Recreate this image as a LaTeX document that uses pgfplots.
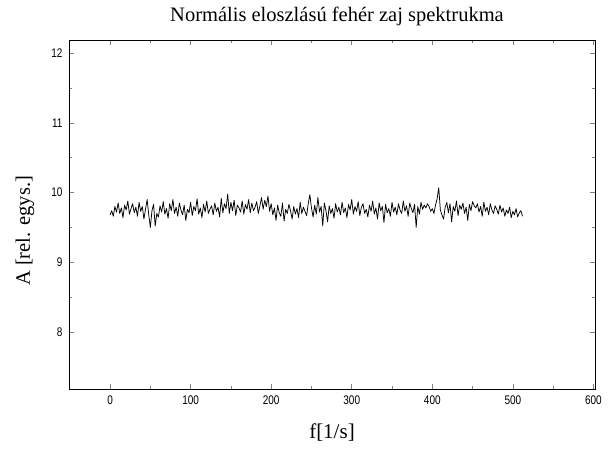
\documentclass[border=0pt]{standalone}
\usepackage{fontspec}
\setmainfont{Liberation Serif}
\newfontfamily\ticksans[FakeStretch=0.8]{Liberation Sans}
\usepackage{pgfplots}
\pgfplotsset{compat=1.18}
\begin{document}
\begin{tikzpicture}[x=1pt,y=1pt]
\path[use as bounding box] (-69,-59) rectangle (540,389);
\begin{axis}[at={(0,0)}, anchor=south west, scale only axis,
 width=526pt, height=349pt,
 xmin=-51, xmax=602, ymin=7.18, ymax=12.19,
 xtick={0,100,...,600}, ytick={8,9,10,11,12},
 minor x tick num=1, minor y tick num=1,
 tick align=inside, major tick length=5pt, minor tick length=3pt,
 tick style={line width=0.6pt},
 tick label style={font=\ticksans\fontsize{12.5}{12.5}\selectfont},
 /pgf/number format/assume math mode=true,
 xticklabel style={yshift=-3pt}, yticklabel style={xshift=-3pt},
 axis line style={line width=0.8pt},
 title={Normális eloszlású fehér zaj spektrukma},
 title style={at={(axis description cs:0.5095,1.0344)}, anchor=base, font=\fontsize{20.5}{24}\selectfont},
 xlabel={f[1/s]},
 xlabel style={at={(axis description cs:0.5,-0.1404)}, anchor=base, font=\fontsize{21}{24}\selectfont},
 ylabel={A [rel. egys.]},
 ylabel style={at={(axis description cs:-0.0837,0.453)}, anchor=center, font=\fontsize{20.5}{24}\selectfont},
]
\addplot[black, line width=0.75pt, mark=none, line join=round] coordinates {
(0,9.68)(2,9.74)(4,9.66)(6,9.80)(8,9.72)(10,9.85)(12,9.70)(14,9.78)(16,9.64)(18,9.82)(20,9.75)(22,9.88)(24,9.69)(26,9.77)(28,9.84)(30,9.71)
(32,9.79)(34,9.66)(36,9.86)(38,9.73)(40,9.80)(42,9.62)(44,9.76)(46,9.90)(48,9.68)(50,9.50)(52,9.74)(54,9.83)(56,9.52)(58,9.70)(60,9.65)(62,9.81)
(64,9.72)(66,9.87)(68,9.69)(70,9.77)(72,9.63)(74,9.84)(76,9.74)(78,9.90)(80,9.70)(82,9.79)(84,9.66)(86,9.85)(88,9.75)(90,9.68)(92,9.82)(94,9.60)
(96,9.76)(98,9.71)(100,9.86)(102,9.67)(104,9.80)(106,9.74)(108,9.91)(110,9.69)(112,9.78)(114,9.64)(116,9.83)(118,9.72)(120,9.88)(122,9.70)(124,9.76)(126,9.81)
(128,9.68)(130,9.85)(132,9.73)(134,9.79)(136,9.65)(138,9.92)(140,9.71)(142,9.84)(144,9.77)(146,9.98)(148,9.70)(150,9.86)(152,9.74)(154,9.89)(156,9.67)(158,9.82)
(160,9.78)(162,9.72)(164,9.88)(166,9.69)(168,9.83)(170,9.76)(172,9.90)(174,9.71)(176,9.85)(178,9.74)(180,9.79)(182,9.87)(184,9.70)(186,9.81)(188,9.93)(190,9.76)
(192,9.89)(194,9.80)(196,9.95)(198,9.73)(200,9.84)(202,9.68)(204,9.78)(206,9.60)(208,9.82)(210,9.71)(212,9.66)(214,9.85)(216,9.59)(218,9.76)(220,9.70)(222,9.83)
(224,9.74)(226,9.62)(228,9.80)(230,9.69)(232,9.77)(234,9.64)(236,9.86)(238,9.70)(240,9.79)(242,9.73)(244,9.67)(246,9.84)(248,9.97)(250,9.78)(252,9.65)(254,9.82)
(256,9.69)(258,9.93)(260,9.72)(262,9.80)(264,9.52)(266,9.85)(268,9.74)(270,9.58)(272,9.81)(274,9.70)(276,9.77)(278,9.63)(280,9.84)(282,9.72)(284,9.79)(286,9.68)
(288,9.86)(290,9.71)(292,9.78)(294,9.64)(296,9.83)(298,9.75)(300,9.90)(302,9.69)(304,9.80)(306,9.73)(308,9.87)(310,9.67)(312,9.79)(314,9.84)(316,9.70)(318,9.76)
(320,9.65)(322,9.82)(324,9.73)(326,9.88)(328,9.69)(330,9.78)(332,9.62)(334,9.85)(336,9.74)(338,9.80)(340,9.57)(342,9.83)(344,9.71)(346,9.77)(348,9.66)(350,9.86)
(352,9.72)(354,9.79)(356,9.68)(358,9.84)(360,9.75)(362,9.70)(364,9.88)(366,9.73)(368,9.81)(370,9.66)(372,9.85)(374,9.77)(376,9.71)(378,9.83)(380,9.50)(382,9.80)
(384,9.69)(386,9.86)(388,9.76)(390,9.82)(392,9.78)(394,9.84)(396,9.80)(398,9.73)(400,9.77)(402,9.70)(404,9.82)(406,9.91)(408,10.07)(410,9.75)(412,9.68)(414,9.62)
(416,9.79)(418,9.86)(420,9.71)(422,9.84)(424,9.58)(426,9.80)(428,9.73)(430,9.88)(432,9.67)(434,9.82)(436,9.76)(438,9.85)(440,9.70)(442,9.79)(444,9.60)(446,9.83)
(448,9.74)(450,9.87)(452,9.81)(454,9.78)(456,9.84)(458,9.72)(460,9.80)(462,9.66)(464,9.86)(466,9.73)(468,9.79)(470,9.68)(472,9.84)(474,9.75)(476,9.70)(478,9.81)
(480,9.76)(482,9.69)(484,9.82)(486,9.72)(488,9.78)(490,9.66)(492,9.75)(494,9.70)(496,9.79)(498,9.64)(500,9.73)(502,9.68)(504,9.77)(506,9.65)(508,9.71)(510,9.74)(512,9.66)
};
\end{axis}
\end{tikzpicture}
\end{document}
